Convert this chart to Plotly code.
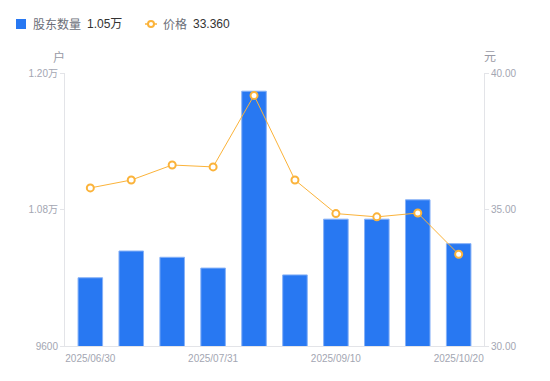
import plotly.graph_objects as go

categories = ["2025/06/30", "2025/07/10", "2025/07/20", "2025/07/31", "2025/08/10",
              "2025/08/20", "2025/09/10", "2025/09/20", "2025/09/30", "2025/10/20"]
holders = [10200, 10435, 10380, 10285, 11840, 10225, 10715, 10715, 10885, 10500]
price = [35.79, 36.08, 36.63, 36.56, 39.18, 36.08, 34.85, 34.73, 34.87, 33.36]
shown_ticks = ["2025/06/30", "2025/07/31", "2025/09/10", "2025/10/20"]
left_tickvals = [9600, 10800, 12000]
left_ticktext = ["9600", "1.08万", "1.20万"]
right_tickvals = [30, 35, 40]
right_ticktext = ["30.00", "35.00", "40.00"]

W, H = 550, 381
L, R, T, B = 65, 66, 73, 35
PW, PH = W - L - R, H - T - B

def px(x):
    return (x - L) / PW

def py(y):
    return (H - B - y) / PH

BLUE = "#2878f2"
ORANGE = "#fbb33a"
GREY = "#a3a6b2"
FONT = "Liberation Sans, Arial, Noto Sans CJK SC, sans-serif"

fig = go.Figure()
fig.add_trace(go.Bar(
    x=categories, y=holders, name="股东数量", yaxis="y",
    marker=dict(color=BLUE, line=dict(color="#86b1f7", width=1)),
))
fig.add_trace(go.Scatter(
    x=categories, y=price, name="价格", yaxis="y2", mode="lines+markers",
    line=dict(color=ORANGE, width=1),
    marker=dict(symbol="circle", size=7, color="white", line=dict(color=ORANGE, width=2)),
))

fig.update_layout(
    width=W, height=H, margin=dict(l=L, r=R, t=T, b=B),
    paper_bgcolor="white", plot_bgcolor="white",
    showlegend=False, bargap=0.4,
    font=dict(family=FONT, size=10, color=GREY),
    xaxis=dict(
        type="category", tickmode="array", tickvals=shown_ticks, ticktext=shown_ticks,
        showgrid=False, showline=True, linecolor="#e3e4e8", linewidth=1,
        ticks="", tickfont=dict(size=10, color=GREY), zeroline=False,
        ticklabelstandoff=3,
    ),
    yaxis=dict(
        range=[9600, 12000], tickvals=left_tickvals, ticktext=left_ticktext,
        showgrid=False, showline=True, linecolor="#e3e4e8", linewidth=1,
        ticks="outside", ticklen=4, tickcolor="#e3e4e8", zeroline=False,
        tickfont=dict(size=10, color=GREY),
    ),
    yaxis2=dict(
        range=[30, 40], tickvals=right_tickvals, ticktext=right_ticktext,
        overlaying="y", side="right",
        showgrid=False, showline=True, linecolor="#e3e4e8", linewidth=1,
        ticks="outside", ticklen=4, tickcolor="#e3e4e8", zeroline=False,
        tickfont=dict(size=10, color=GREY),
    ),
)

# axis unit titles
fig.add_annotation(text="户", x=px(59), y=py(57), xref="paper", yref="paper",
                   showarrow=False, font=dict(size=12, color="#999aa5"), xanchor="center", yanchor="middle")
fig.add_annotation(text="元", x=px(490), y=py(57), xref="paper", yref="paper",
                   showarrow=False, font=dict(size=12, color="#999aa5"), xanchor="center", yanchor="middle")

# custom legend
fig.add_shape(type="rect", xref="paper", yref="paper",
              x0=px(16), x1=px(26), y0=py(29), y1=py(19),
              fillcolor=BLUE, line=dict(width=0))
fig.add_annotation(text="股东数量", x=px(31), y=py(24.5), xref="paper", yref="paper",
                   showarrow=False, xanchor="left", yanchor="middle",
                   font=dict(size=12, color="#6b6e78"))
fig.add_annotation(text="1.05万", x=px(85), y=py(24.5), xref="paper", yref="paper",
                   showarrow=False, xanchor="left", yanchor="middle",
                   font=dict(size=12, color="#333333"))
fig.add_shape(type="line", xref="paper", yref="paper",
              x0=px(145), x1=px(157), y0=py(24), y1=py(24),
              line=dict(color=ORANGE, width=1.5))
fig.add_shape(type="circle", xref="paper", yref="paper",
              x0=px(148), x1=px(154), y0=py(27), y1=py(21),
              fillcolor="white", line=dict(color=ORANGE, width=2))
fig.add_annotation(text="价格", x=px(161), y=py(24.5), xref="paper", yref="paper",
                   showarrow=False, xanchor="left", yanchor="middle",
                   font=dict(size=12, color="#6b6e78"))
fig.add_annotation(text="33.360", x=px(191), y=py(24.5), xref="paper", yref="paper",
                   showarrow=False, xanchor="left", yanchor="middle",
                   font=dict(size=12, color="#333333"))

fig.write_html("out.html", config={"displayModeBar": False},
               post_script="document.body.style.margin='0';document.body.style.padding='0';")
